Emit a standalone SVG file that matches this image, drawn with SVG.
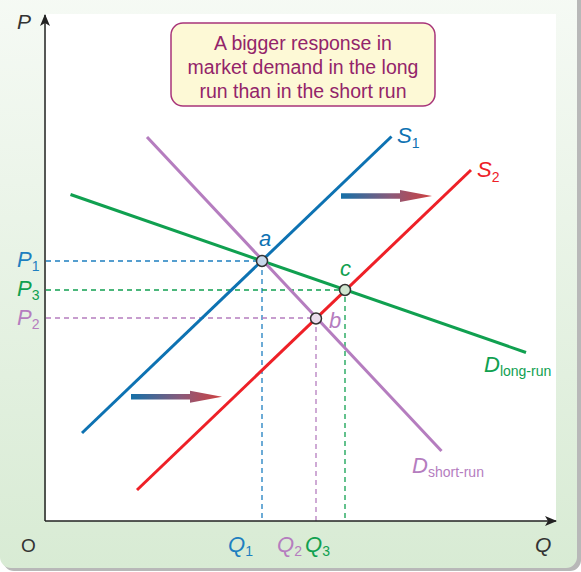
<svg xmlns="http://www.w3.org/2000/svg" width="581" height="572" viewBox="0 0 581 572">
<defs>
<linearGradient id="bg" x1="0" y1="0" x2="0" y2="1">
<stop offset="0" stop-color="#f6faf5"/>
<stop offset="1" stop-color="#d8ebd4"/>
</linearGradient>
<linearGradient id="arr" x1="0" y1="0" x2="1" y2="0">
<stop offset="0" stop-color="#1470a8"/>
<stop offset="0.55" stop-color="#8a5a7a"/>
<stop offset="1" stop-color="#d04040"/>
</linearGradient>
<marker id="ah" markerWidth="12" markerHeight="10" refX="11" refY="5" orient="auto" markerUnits="userSpaceOnUse">
<path d="M0,0 L12,5 L0,10 L3,5 Z" fill="#222"/>
</marker>
</defs>
<style>
text{font-family:"Liberation Sans",Arial,sans-serif;}
.it{font-style:italic;}
.curve{fill:none;stroke-width:3;stroke-linecap:butt;}
.dash{fill:none;stroke-width:1.3;stroke-dasharray:5,4;}
.pt{stroke:#333;stroke-width:1.5;}
.lbl{font-size:22px;font-style:italic;}
.sub{font-size:14px;font-style:normal;}
</style>
<rect x="3" y="-12" width="578" height="583" rx="11" fill="#b8b8b8"/>
<rect x="0" y="-12" width="577" height="580" rx="11" fill="url(#bg)"/>
<rect x="46" y="14" width="510" height="507" fill="#ffffff"/>

<g id="dashes">
<path class="dash" stroke="#1e7fc0" d="M46,261 H262 V521"/>
<path class="dash" stroke="#10a050" d="M46,290 H345 V521"/>
<path class="dash" stroke="#b57dbf" d="M46,318 H316 V521"/>
</g>

<g id="axes">
<line x1="45" y1="521" x2="45" y2="15" stroke="#222" stroke-width="1.5" marker-end="url(#ah)"/>
<line x1="45" y1="521" x2="556" y2="521" stroke="#222" stroke-width="1.5" marker-end="url(#ah)"/>
<text x="17" y="29" class="it" font-size="21" fill="#333">P</text>
<text x="21" y="552" font-size="19" fill="#333">O</text>
<text x="535" y="552" class="it" font-size="21" fill="#333">Q</text>
</g>

<g id="connectors">
<line class="curve" stroke="#10a050" x1="70.5" y1="194.5" x2="526" y2="352.5"/>
<line class="curve" stroke="#b57dbf" x1="147" y1="137" x2="441.5" y2="451"/>
<line class="curve" stroke="#0d72b2" x1="82" y1="433" x2="391.5" y2="136.5"/>
<line class="curve" stroke="#ee2027" x1="137" y1="490" x2="471" y2="170"/>
</g>

<g id="shift-arrow-top">
<path d="M341,193.2 H400 V190 L432,196 L400,202 V198.8 H341 Z" fill="url(#arr)"/>
</g>
<g id="shift-arrow-bottom">
<path d="M131,394 H190 V390.8 L222,396.8 L190,402.8 V399.6 H131 Z" fill="url(#arr)"/>
</g>

<g id="point-a">
<circle class="pt" cx="262" cy="261" r="5.5" fill="#c8d8ea"/>
<text x="259" y="246" class="lbl" font-size="23" fill="#0d72b2">a</text>
</g>
<g id="point-c">
<circle class="pt" cx="345" cy="290" r="5.5" fill="#cfe5cf"/>
<text x="340" y="276" class="lbl" font-size="23" fill="#10a050">c</text>
</g>
<g id="point-b">
<circle class="pt" cx="316" cy="318.5" r="5.5" fill="#eadcec"/>
<text x="329" y="328" class="lbl" font-size="23" fill="#b57dbf">b</text>
</g>

<g id="label-S1">
<text x="397" y="143" class="lbl" fill="#0d72b2">S<tspan class="sub" dy="5">1</tspan></text>
</g>
<g id="label-S2">
<text x="477" y="177" class="lbl" fill="#ee2027">S<tspan class="sub" dy="5">2</tspan></text>
</g>
<g id="label-Dlong">
<text x="484" y="372" class="lbl" fill="#10a050" font-size="24">D<tspan class="sub" font-size="15" dy="4">long-run</tspan></text>
</g>
<g id="label-Dshort">
<text x="412" y="473" class="lbl" fill="#b57dbf" font-size="24">D<tspan class="sub" font-size="15" dy="4">short-run</tspan></text>
</g>

<g id="price-labels">
<text x="17" y="267" class="lbl" font-size="21" fill="#1e7fc0">P<tspan class="sub" font-size="13" dy="4">1</tspan></text>
<text x="17" y="296" class="lbl" font-size="21" fill="#10a050">P<tspan class="sub" font-size="13" dy="4">3</tspan></text>
<text x="17" y="325" class="lbl" font-size="21" fill="#b57dbf">P<tspan class="sub" font-size="13" dy="4">2</tspan></text>
</g>
<g id="quantity-labels">
<text x="228" y="552" class="lbl" font-size="21" fill="#1e7fc0">Q<tspan class="sub" font-size="13" dy="4">1</tspan></text>
<text x="277" y="552" class="lbl" font-size="21" fill="#b57dbf">Q<tspan class="sub" font-size="13" dy="4">2</tspan></text>
<text x="305" y="552" class="lbl" font-size="21" fill="#10a050">Q<tspan class="sub" font-size="13" dy="4">3</tspan></text>
</g>

<g id="note">
<rect x="171" y="23" width="264" height="83" rx="12" fill="#fdf9d6" stroke="#a8357a" stroke-width="1.5"/>
<text x="303" y="50" font-size="19.5" fill="#93246a" text-anchor="middle">A bigger response in</text>
<text x="303" y="74" font-size="19.5" fill="#93246a" text-anchor="middle">market demand in the long</text>
<text x="303" y="98" font-size="19.5" fill="#93246a" text-anchor="middle">run than in the short run</text>
</g>
</svg>
